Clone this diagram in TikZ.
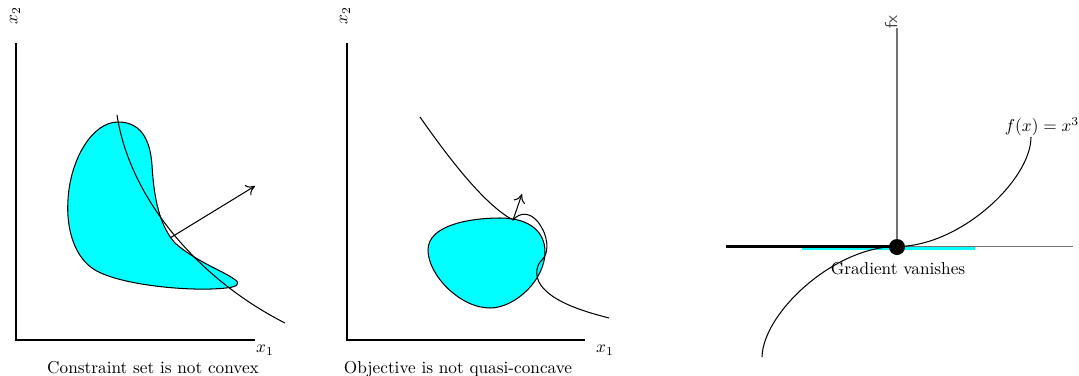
\documentclass[tikz,border=0pt]{standalone}
\usetikzlibrary{arrows.meta}
\definecolor{aqua}{RGB}{0,255,255}
\begin{document}
\begin{tikzpicture}[x=0.58pt,y=-0.58pt,
  axis/.style={line width=0.8pt},
  curve/.style={line width=0.6pt},
  blob/.style={fill=aqua,draw=black,line width=0.6pt},
  vec/.style={line width=0.6pt,-{To[length=5pt,width=7pt]}},
  gaxis/.style={line width=1.1pt,draw=black!55},
  lbl/.style={inner sep=0pt}]
\useasboundingbox (0,0) rectangle (1079,375);
% ---------- panel 1 ----------
\draw[axis] (16,43) -- (16,340) -- (255,340);
\node[lbl,rotate=90] (p1y) at (15,16) {$x_2$};
\node[lbl] (p1x) at (265,350) {$x_1$};
\node[lbl,anchor=base] (p1c) at (153,373) {Constraint set is not convex};
\draw[blob] (118,122) .. controls (140,122) and (150,138) .. (152,165)
  .. controls (154,200) and (160,226) .. (175,243)
  .. controls (195,261) and (225,272) .. (234,279)
  .. controls (241,283) and (238,287) .. (226,288)
  .. controls (190,292) and (120,285) .. (95,270)
  .. controls (75,258) and (66,230) .. (68,200)
  .. controls (70,160) and (92,122) .. (118,122) -- cycle;
\draw[curve] (117,115) .. controls (130,200) and (200,280) .. (285,323);
\coordinate (t1) at (170,238);
\coordinate (h1) at (255,186);
\draw[vec] (t1) -- (h1);
% ---------- panel 2 ----------
\draw[axis] (347,43) -- (347,340) -- (585,340);
\node[lbl,rotate=90] (p2y) at (345,16) {$x_2$};
\node[lbl] (p2x) at (605,350) {$x_1$};
\node[lbl,anchor=base] (p2c) at (458,373) {Objective is not quasi-concave};
\draw[blob] (428,250) .. controls (428,225) and (470,218) .. (500,218)
  .. controls (530,218) and (545,232) .. (545,252)
  .. controls (545,280) and (515,308) .. (490,308)
  .. controls (460,308) and (428,275) .. (428,250) -- cycle;
\draw[curve] (420,117) .. controls (450,160) and (485,205) .. (513,220)
  .. controls (520,212) and (530,212) .. (538,222)
  .. controls (548,235) and (550,252) .. (542,260)
  .. controls (535,266) and (534,280) .. (545,290)
  .. controls (560,305) and (590,313) .. (609,318);
\coordinate (t2) at (513,220);
\coordinate (h2) at (522,194);
\draw[vec] (t2) -- (h2);
% ---------- panel 3 ----------
\draw[aqua,line width=2.4pt] (802,248) -- (975,248);
\draw[gaxis] (726,246.5) -- (1073,246.5);
\draw[line width=1.2pt] (726,246.5) -- (897,246.5);
\draw[gaxis,line width=0.8pt] (897,28) -- (897,246);
\node[lbl,rotate=90,anchor=base west,text=black!75] (fx) at (897,29) {\sffamily fx};
\coordinate (o3) at (897,246.5);
\coordinate (l3) at (762,357);
\coordinate (r3) at (1031,137);
\draw[curve] (l3) .. controls (763,313) and (834,246.5) .. (o3)
  .. controls (960,246.5) and (1031,180) .. (r3);
\fill (897,247) circle (8);
\node[lbl] (fl) at (1042,127) {$f(x)=x^3$};
\node[lbl,anchor=base] (gv) at (898,274) {Gradient vanishes};
\end{tikzpicture}
\end{document}
